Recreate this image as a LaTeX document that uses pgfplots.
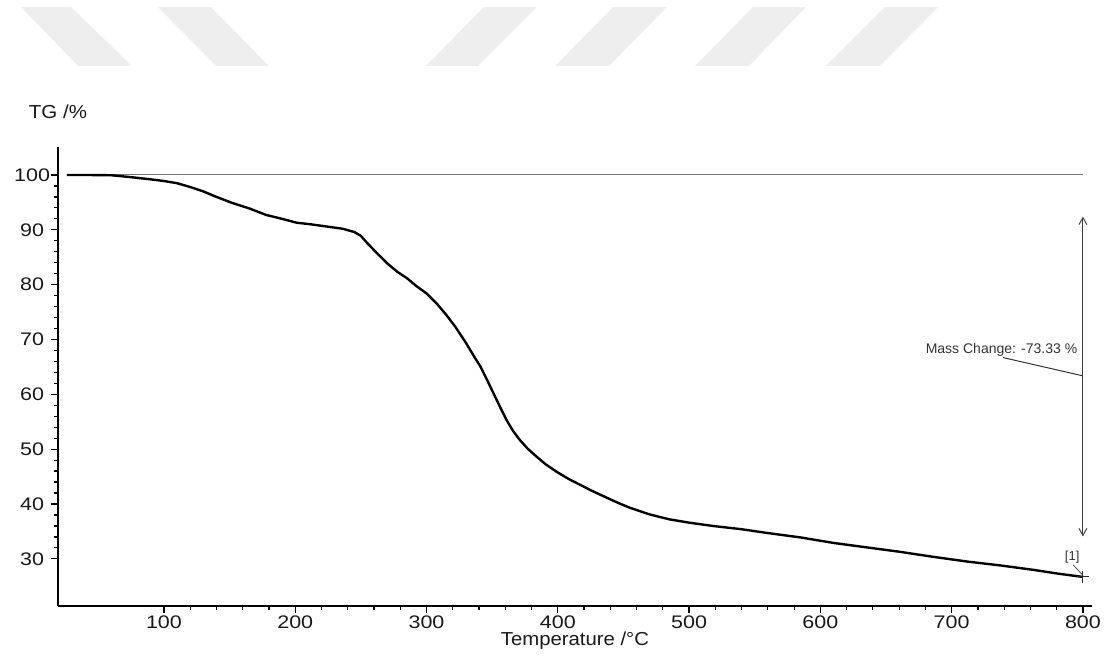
\documentclass[border=0pt]{standalone}
\usepackage{pgfplots}
\pgfplotsset{compat=1.18}
\usepackage{pgfplotstable}
\usepackage{fontspec}
\setmainfont{Liberation Sans}
\usetikzlibrary{arrows.meta}

\pgfplotstableread{
T m
26 100
40 100
60 99.95
75 99.6
90 99.2
100 98.9
110 98.5
120 97.8
130 97.0
140 96.0
152 94.9
165 93.9
178 92.7
190 92.0
201 91.3
212 91.0
221 90.7
236 90.2
245 89.6
250 88.9
254 87.8
262 85.8
270 83.9
278 82.3
285 81.2
292 79.8
300 78.4
308 76.5
315 74.5
322 72.3
330 69.4
336 67.0
341 65.1
346 62.7
351 60.2
356 57.7
361 55.3
366 53.3
371 51.7
377 50.1
384 48.6
391 47.2
399 45.9
408 44.6
417 43.5
426 42.4
435 41.4
445 40.3
455 39.3
470 38.1
485 37.2
500 36.6
518 36.0
540 35.4
560 34.7
585 33.9
610 32.9
635 32.1
660 31.3
685 30.4
712 29.5
737 28.8
762 28.0
781 27.3
800 26.7
}\tgdata

\begin{document}
\begin{tikzpicture}
\path[use as bounding box] (0,0) rectangle (555pt,329.5pt);
% watermark stripes
\fill[gray!13] (10.5pt,326pt) -- (35.5pt,326pt) -- (66pt,296.5pt) -- (39pt,296.5pt) -- cycle;
\fill[gray!13] (79pt,326pt) -- (105.5pt,326pt) -- (134.5pt,296.5pt) -- (108pt,296.5pt) -- cycle;
\fill[gray!13] (242pt,326pt) -- (268.5pt,326pt) -- (239pt,296.5pt) -- (213pt,296.5pt) -- cycle;
\fill[gray!13] (306.5pt,326pt) -- (333.5pt,326pt) -- (304.5pt,296.5pt) -- (277.5pt,296.5pt) -- cycle;
\fill[gray!13] (376.5pt,326pt) -- (403pt,326pt) -- (374.5pt,296.5pt) -- (347.5pt,296.5pt) -- cycle;
\fill[gray!13] (442.5pt,326pt) -- (469pt,326pt) -- (440pt,296.5pt) -- (413pt,296.5pt) -- cycle;
\begin{axis}[
  at={(29pt,26.5pt)}, anchor=south west,
  scale only axis, width=517pt, height=229.5pt,
  xmin=19.3, xmax=806.9, ymin=21.4, ymax=105.1,
  axis lines=left, axis line style={-, line width=0.8pt},
  xtick={100,200,...,800}, ytick={30,40,...,100},
  minor x tick num=4, minor y tick num=4,
  tick align=outside,
  major tick length=3.5pt, minor tick length=2pt,
  tick style={black, line width=0.6pt},
  /pgf/number format/assume math mode=true,
  tick label style={font=\fontsize{9.1}{10}\selectfont, xscale=1.18, text=black!90},
  yticklabel style={anchor=center, xshift=-8pt},
  xticklabel style={anchor=north, inner sep=0pt, yshift=-1.2pt},
  every axis x label/.style={at={(axis description cs:0.5,0)}, anchor=base, yshift=-19.8pt,
     font=\fontsize{9.4}{10}\selectfont, xscale=1.08, text=black!90},
  every axis y label/.style={at={(axis description cs:0,1)}, anchor=base, yshift=14.5pt,
     font=\fontsize{9.4}{10}\selectfont, xscale=1.09, text=black!90},
  xlabel={Temperature /°C},
  ylabel={TG /\%},
  clip=false,
]
\addplot[gray!90!black, line width=0.5pt] coordinates {(26,100) (800,100)};
\addplot[black, line width=1.2pt, line join=round] table[x=T, y=m] {\tgdata};
\draw[{Straight Barb[length=3.5pt,width=4pt]}-{Straight Barb[length=3.5pt,width=4pt]}, black!75, line width=0.5pt]
  (axis cs:800,92.4) -- (axis cs:800,34.1);
\node[anchor=base east, inner sep=0pt, font=\fontsize{7}{8}\selectfont, text=black!80] at (axis cs:796,67.4) {Mass Change: -73.33 \%};
\draw[black!80, line width=0.5pt] (axis cs:739.2,66.7) -- (axis cs:799.4,63.4);
\node[inner sep=0pt, font=\fontsize{6.5}{7}\selectfont, text=black!80] at (axis cs:791.8,30.4) {[1]};
\draw[black!70, line width=0.4pt] (axis cs:792.5,28.9) -- (axis cs:799.6,27.1);
\addplot[only marks, mark=+, mark size=3pt, black!85, mark options={line width=0.5pt}] coordinates {(800,26.7)};
\end{axis}
\end{tikzpicture}
\end{document}
